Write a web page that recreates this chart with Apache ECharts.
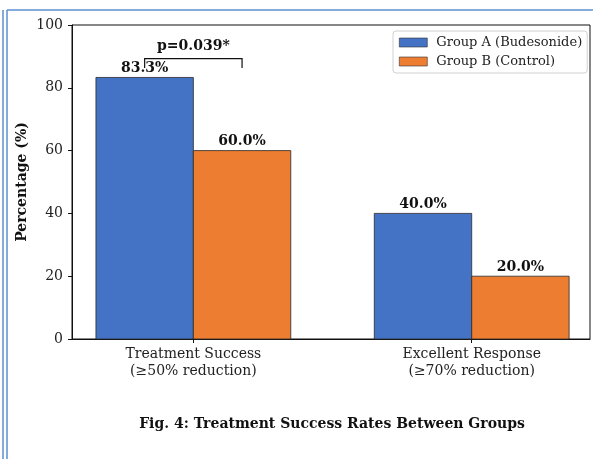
<!DOCTYPE html>
<html>
<head>
<meta charset="utf-8">
<script src="https://cdn.jsdelivr.net/npm/echarts@6/dist/echarts.min.js"></script>
<style>
  html, body { margin: 0; padding: 0; background: #fff; }
  #chart { width: 593px; height: 459px; }
</style>
</head>
<body>
<div id="chart"></div>
<script>
// Outcome categories and the share of patients reaching each one
const categories = ['Treatment Success\n(≥50% reduction)', 'Excellent Response\n(≥70% reduction)'];
const groupNames = ['Group A (Budesonide)', 'Group B (Control)'];
const groupA = [83.3, 40.0];
const groupB = [60.0, 20.0];
const yTicks = [0, 20, 40, 60, 80, 100];

// Significance bracket over the first category
const pLabel = 'p=0.039*';
const bracketX = [-0.175, 0.175];
const bracketLow = 86.3;
const bracketHigh = 89.3;
const pLabelY = 93.3;

const captionText = 'Fig. 4: Treatment Success Rates Between Groups';

const FONT = '"DejaVu Serif", serif';
const BAR_W = 0.35;
const colors = ['#4472C4', '#ED7D31'];

function barSeries(name, values, offset, color) {
  return {
    type: 'custom',
    name: name,
    itemStyle: { color: color },
    data: values.map((v, i) => [i + offset, v]),
    renderItem: function (params, api) {
      const x = api.value(0), y = api.value(1);
      const p0 = api.coord([x - BAR_W / 2, y]);
      const p1 = api.coord([x + BAR_W / 2, 0]);
      const top = api.coord([x, y]);
      return {
        type: 'group',
        children: [
          {
            type: 'rect',
            shape: { x: p0[0], y: p0[1], width: p1[0] - p0[0], height: p1[1] - p0[1] },
            style: { fill: color, stroke: '#2a2a2a', lineWidth: 0.8 }
          },
          {
            type: 'text',
            style: {
              x: top[0], y: top[1] - 2,
              text: y.toFixed(1) + '%',
              font: 'bold 14px ' + FONT,
              fill: '#111',
              align: 'center', verticalAlign: 'bottom'
            }
          }
        ]
      };
    }
  };
}

const chart = echarts.init(document.getElementById('chart'));
chart.setOption({
  animation: false,
  backgroundColor: '#fff',
  grid: {
    left: 72, right: 3, top: 25, bottom: 120,
    show: true, borderColor: '#111', borderWidth: 1, backgroundColor: 'transparent'
  },
  legend: {
    orient: 'vertical',
    left: 393, top: 31,
    padding: [4, 5, 4, 6],
    itemGap: 4,
    itemWidth: 28, itemHeight: 9,
    icon: 'rect',
    backgroundColor: '#fff',
    borderColor: '#d0d0d0', borderWidth: 1, borderRadius: 3,
    itemStyle: { borderColor: '#333', borderWidth: 0.6 },
    textStyle: { fontFamily: FONT, fontSize: 13, color: '#222', lineHeight: 15, padding: [0, 0, 0, 4] },
    data: groupNames
  },
  xAxis: {
    type: 'value',
    min: -0.436, max: 1.425,
    splitLine: { show: false },
    axisLine: { show: true, onZero: false, lineStyle: { color: '#111', width: 1 } },
    axisTick: { show: true, customValues: [0, 1], length: 4, lineStyle: { color: '#111' } },
    axisLabel: {
      show: true, customValues: [0, 1],
      formatter: v => categories[Math.round(v)],
      fontFamily: FONT, fontSize: 14, color: '#222', lineHeight: 17, margin: 7
    }
  },
  yAxis: {
    type: 'value',
    min: 0, max: 100, interval: 20,
    name: 'Percentage (%)',
    nameLocation: 'middle',
    nameGap: 43,
    nameMoveOverlap: false,
    nameTextStyle: { fontFamily: FONT, fontSize: 14, fontWeight: 'bold', color: '#111' },
    splitLine: { show: false },
    axisLine: { show: true, onZero: false, lineStyle: { color: '#111', width: 1 } },
    axisTick: { show: true, length: 4, lineStyle: { color: '#111' } },
    axisLabel: {
      fontFamily: FONT, fontSize: 14, color: '#222', margin: 9,
      formatter: v => (yTicks.includes(v) ? String(v) : '')
    }
  },
  series: [
    barSeries(groupNames[0], groupA, -BAR_W / 2, colors[0]),
    barSeries(groupNames[1], groupB, BAR_W / 2, colors[1]),
    {
      type: 'custom',
      name: 'significance',
      silent: true,
      data: [[bracketX[0], bracketX[1], bracketLow, bracketHigh, pLabelY]],
      renderItem: function (params, api) {
        const a = api.coord([api.value(0), api.value(2)]);
        const b = api.coord([api.value(0), api.value(3)]);
        const c = api.coord([api.value(1), api.value(3)]);
        const d = api.coord([api.value(1), api.value(2)]);
        const t = api.coord([(api.value(0) + api.value(1)) / 2, api.value(4)]);
        return {
          type: 'group',
          children: [
            {
              type: 'polyline',
              shape: { points: [a, b, c, d] },
              style: { stroke: '#111', lineWidth: 1.2, fill: null }
            },
            {
              type: 'text',
              style: {
                x: t[0], y: t[1], text: pLabel,
                font: 'bold 14px ' + FONT, fill: '#111',
                align: 'center', verticalAlign: 'middle'
              }
            }
          ]
        };
      }
    }
  ],
  graphic: [
    { type: 'line', shape: { x1: 3, y1: 10, x2: 3, y2: 459 }, style: { stroke: '#5d8fd1', lineWidth: 1.5 } },
    { type: 'line', shape: { x1: 7, y1: 10, x2: 7, y2: 459 }, style: { stroke: '#5d8fd1', lineWidth: 1.5 } },
    { type: 'line', shape: { x1: 7, y1: 10, x2: 593, y2: 10 }, style: { stroke: '#5d8fd1', lineWidth: 1.5 } },
    {
      type: 'text', x: 332, y: 424,
      style: {
        text: captionText, font: 'bold 14px ' + FONT, fill: '#111',
        align: 'center', verticalAlign: 'middle'
      }
    }
  ]
});
</script>
</body>
</html>
